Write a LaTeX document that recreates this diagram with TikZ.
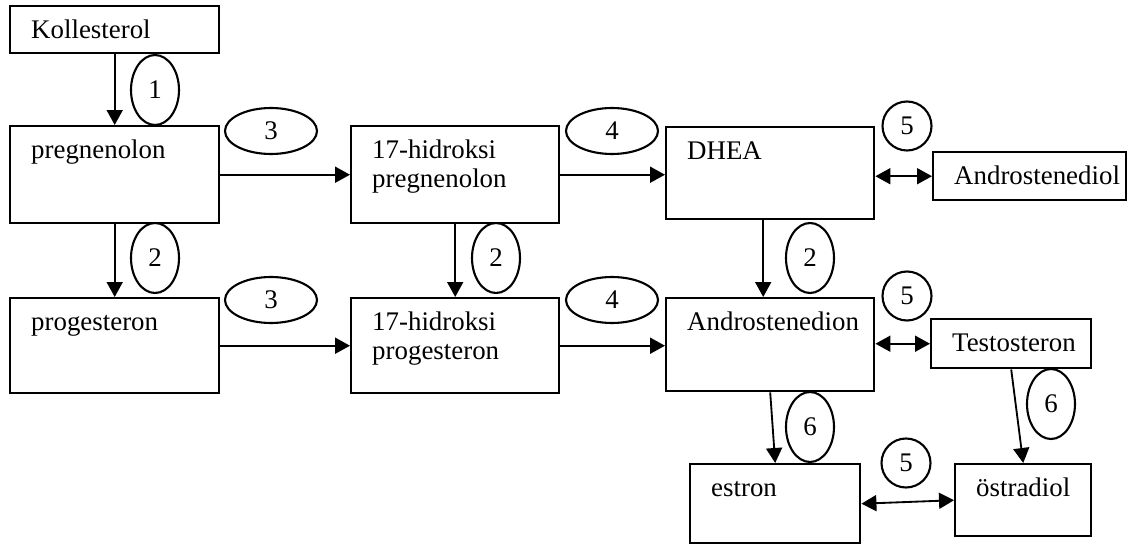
\documentclass[tikz,border=0pt]{standalone}
\usepackage{fontspec}
\setmainfont{Liberation Serif}
\usetikzlibrary{shapes.geometric, arrows.meta, positioning}
\tikzstyle{box} = [rectangle, draw=black, line width=1.4pt, anchor=north west, align=left, inner xsep=0.42cm, inner ysep=0pt, text height=0.64cm, font=\fontsize{15.3}{16.6}\selectfont]
\tikzstyle{enzyme} = [ellipse, draw=black, line width=1.2pt, inner sep=0pt, minimum width=0.96cm, minimum height=1.4cm, font=\fontsize{15.3}{16.6}\selectfont]
\tikzstyle{flat} = [enzyme, minimum width=1.84cm, minimum height=0.92cm]
\tikzstyle{ring} = [circle, draw=black, line width=1.2pt, inner sep=0pt, minimum size=0.98cm, font=\fontsize{15.3}{16.6}\selectfont]
\tikzstyle{arrow} = [line width=1.05pt, -{Triangle[length=0.3cm,width=0.32cm]}]
\tikzstyle{twoway} = [line width=1.05pt, {Triangle[length=0.3cm,width=0.32cm]}-{Triangle[length=0.3cm,width=0.32cm]}]

\begin{document}
\begin{tikzpicture}[x=0.02cm, y=-0.02cm]
\useasboundingbox (0,0) rectangle (1137,547);

% Define nodes - the steroid boxes, placed by their top left corner
\node (koll) [box, text width=3.34cm, text depth=0.30cm] at (9,5) {Kollesterol};
\node (preg) [box, text width=3.34cm, text depth=1.30cm] at (9,125) {pregnenolon};
\node (hpreg) [box, text width=3.32cm, text depth=1.30cm] at (350,125) {17-hidroksi\\pregnenolon};
\node (dhea) [box, text width=3.32cm, text depth=1.20cm] at (665,126) {DHEA};
\node (adiol) [box, text width=3.02cm, text depth=0.32cm] at (932,151) {Androstenediol};
\node (prog) [box, text width=3.34cm, text depth=1.26cm] at (9,297) {progesteron};
\node (hprog) [box, text width=3.32cm, text depth=1.26cm] at (350,297) {17-hidroksi\\progesteron};
\node (adion) [box, text width=3.32cm, text depth=1.22cm] at (665,297) {Androstenedion};
\node (testo) [box, text width=2.36cm, text depth=0.34cm] at (930,318) {Testosteron};
\node (estron) [box, text width=2.56cm, text depth=0.94cm] at (689,463) {estron};
\node (ostra) [box, text width=1.88cm, text depth=0.80cm] at (954,463) {östradiol};

% Enzyme numbers
\node (e1) [enzyme] at (155,90) {1};
\node (e3a) [flat] at (271,131) {3};
\node (e4a) [flat] at (612,131) {4};
\node (e5a) [ring] at (907,126) {5};
\node (e2a) [enzyme] at (155,258) {2};
\node (e2b) [enzyme] at (496,258) {2};
\node (e2c) [enzyme] at (810,258) {2};
\node (e3b) [flat] at (271,300) {3};
\node (e4b) [flat] at (612,300) {4};
\node (e5b) [ring] at (907,296) {5};
\node (e6a) [enzyme] at (810,427) {6};
\node (e6b) [enzyme] at (1051,404) {6};
\node (e5c) [ring] at (906,463) {5};

% Conversions
\draw [arrow] (koll.south) -- (preg.north);
\draw [arrow] (preg.south) -- (prog.north);
\draw [arrow] (hpreg.south) -- (hprog.north);
\draw [arrow] ([xshift=-0.14cm]dhea.south) -- ([xshift=-0.14cm]dhea.south |- adion.north);
\draw [arrow] (preg.east) -- (preg.east -| hpreg.west);
\draw [arrow] (hpreg.east) -- (hpreg.east -| dhea.west);
\draw [arrow] (prog.east) -- (prog.east -| hprog.west);
\draw [arrow] (hprog.east) -- (hprog.east -| adion.west);
\draw [twoway] (adiol.west -| dhea.east) -- (adiol.west);
\draw [twoway] (testo.west -| adion.east) -- (testo.west);
\draw [arrow] (adion.south) -- (estron.north);
\draw [arrow] (testo.south) -- (ostra.north);
\draw [twoway] (estron.east) -- (ostra.west);
\end{tikzpicture}
\end{document}
